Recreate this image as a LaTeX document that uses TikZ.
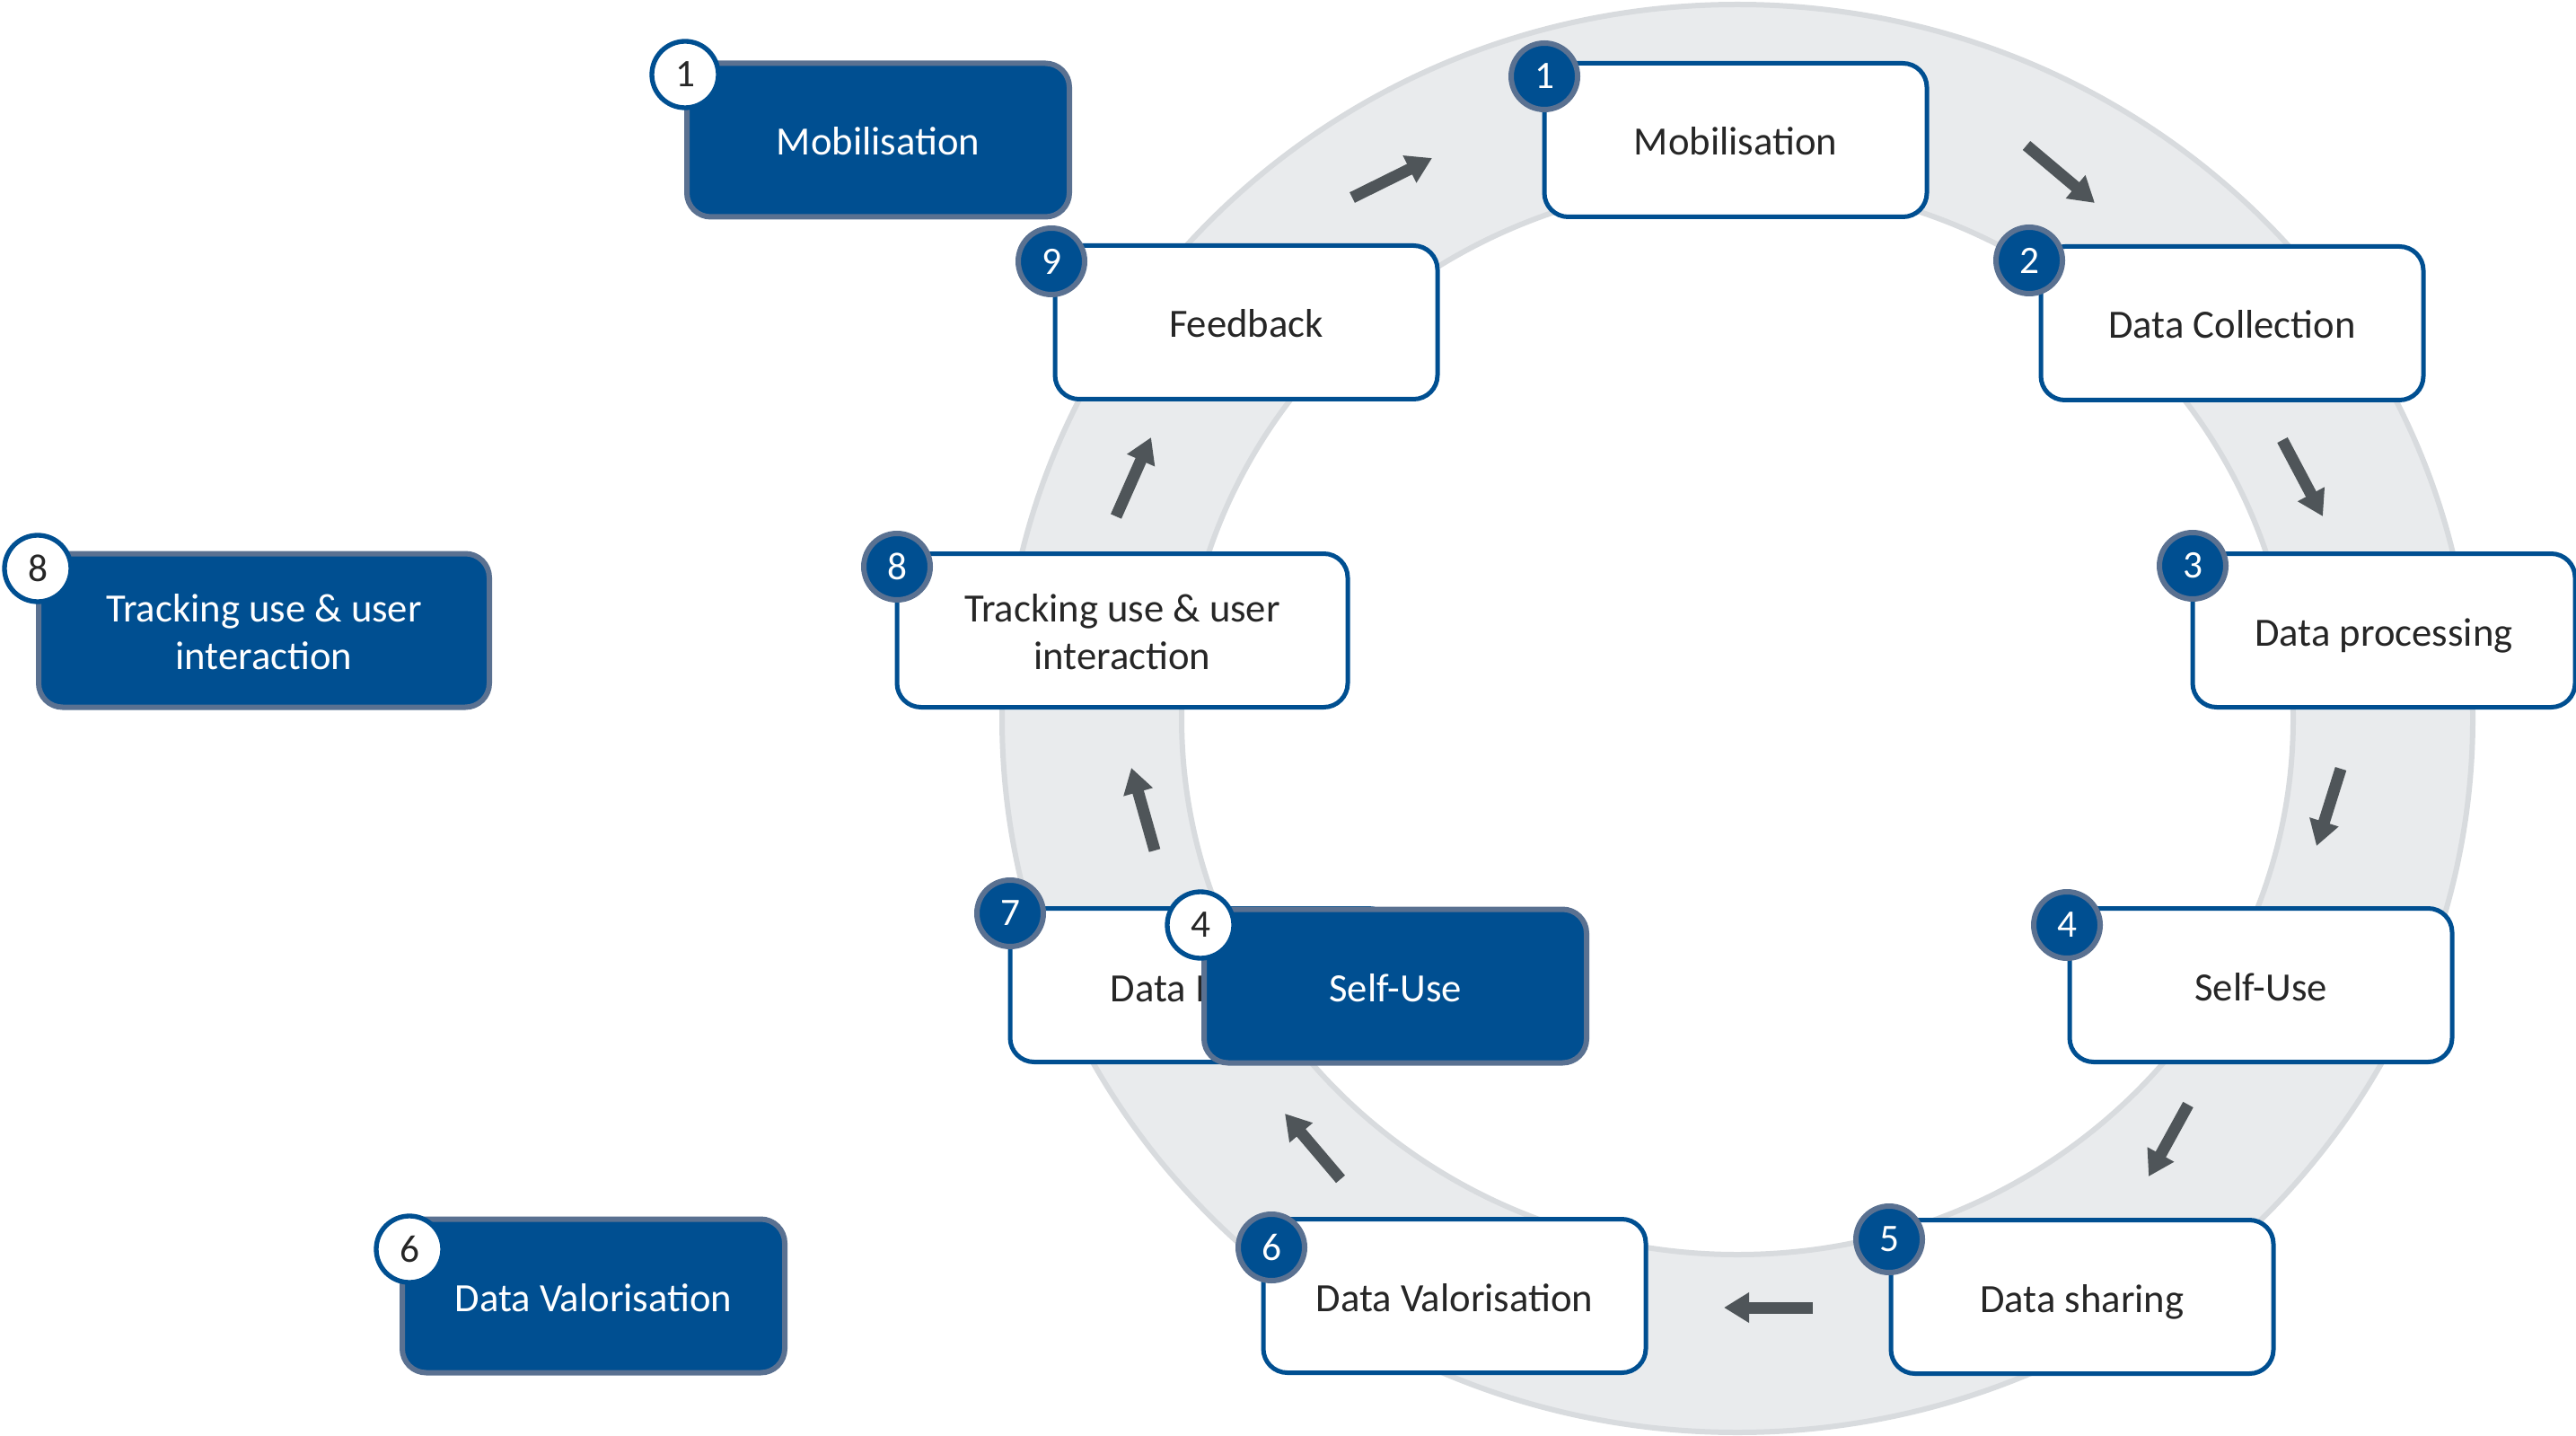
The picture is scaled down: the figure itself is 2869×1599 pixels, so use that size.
\documentclass[tikz,border=0pt]{standalone}
\usepackage{fontspec}
\setmainfont{Carlito}
\usetikzlibrary{arrows.meta}
\definecolor{bluefill}{RGB}{0,79,145}
\definecolor{slate}{RGB}{90,113,145}
\definecolor{arrowc}{RGB}{79,85,89}
\definecolor{ringfill}{RGB}{233,235,237}
\definecolor{ringedge}{RGB}{216,219,222}
\definecolor{textdark}{RGB}{38,38,38}
\newcommand\mainfs{\fontsize{13.4pt}{15.9pt}\selectfont}
\newcommand\badgefs{\fontsize{13pt}{15pt}\selectfont}
\begin{document}
\begin{tikzpicture}[x=0.3pt,y=-0.3pt,
  wbox/.style={draw=bluefill, line width=1.5pt, fill=white, rounded corners=8pt,
    minimum width=127.8pt, minimum height=51.3pt, inner sep=0pt, align=center,
    text=textdark, font=\mainfs},
  bbox/.style={draw=slate, line width=1.8pt, fill=bluefill, rounded corners=8pt,
    minimum width=127.8pt, minimum height=51.3pt, inner sep=0pt, align=center,
    text=white, font=\mainfs},
  oneline/.style={text height=10.2pt, text depth=0pt},
  twoline/.style={yshift=-0.5pt},
  bbadge/.style={circle, draw=slate, fill=bluefill, line width=1.8pt,
    minimum size=22.2pt, inner sep=0pt, text=white, font=\badgefs},
  wbadge/.style={circle, draw=bluefill, fill=white, line width=1.6pt,
    minimum size=22.2pt, inner sep=0pt, text=textdark, font=\badgefs},
  flow/.style={draw=arrowc, line width=3.9pt,
    -{Triangle[length=8.4pt,width=9.6pt]}}
]
\useasboundingbox (0,0) rectangle (2869,1599);
% ring
\fill[ringfill, even odd rule] (1935,800) ellipse [x radius=819, y radius=795]
  (1935,800) ellipse [x radius=619, y radius=597];
\draw[ringedge, line width=1.8pt] (1935,800) ellipse [x radius=819, y radius=795];
\draw[ringedge, line width=1.8pt] (1935,800) ellipse [x radius=619, y radius=597];

% arrow coordinates
\coordinate (a1s) at (2257,162); \coordinate (a1e) at (2333,226);
\coordinate (a2s) at (2542,490); \coordinate (a2e) at (2587,575);
\coordinate (a3s) at (2607,856); \coordinate (a3e) at (2580,942);
\coordinate (a4s) at (2437,1230); \coordinate (a4e) at (2393,1310);
\coordinate (a5s) at (2019,1456); \coordinate (a5e) at (1920,1456);
\coordinate (a6s) at (1493,1313); \coordinate (a6e) at (1431,1240);
\coordinate (a7s) at (1286,947); \coordinate (a7e) at (1260,855);
\coordinate (a8s) at (1243,575); \coordinate (a8e) at (1282,487);
\coordinate (a9s) at (1506,220); \coordinate (a9e) at (1595,176);
\foreach \i in {1,...,9} { \draw[flow] (a\i s) -- (a\i e); }

% white cycle boxes
\node[wbox, oneline] (w1) at (1933,156) {Mobilisation};
\node[wbox, oneline] (w2) at (2486,360) {Data Collection};
\node[wbox, oneline] (w3) at (2655,702) {Data processing};
\node[wbox, oneline] (w4) at (2518,1097) {Self-Use};
\node[wbox, oneline] (w5) at (2319,1444) {Data sharing};
\node[wbox, oneline] (w6) at (1620,1443) {Data Valorisation};
\node[wbox] (w7) at (1338,1097) {};
\node[inner sep=0pt, anchor=west, text=textdark, font=\mainfs] (w7t) at (1236,1101) {Data I};
\node[wbox, minimum width=150.6pt] (w8) at (1250,702) {};
\node[align=center, text=textdark, font=\mainfs, inner sep=0pt] (w8t) at (1250,704) {Tracking use \& user\\interaction};
\node[wbox, oneline] (w9) at (1388,359) {Feedback};

\node[bbadge] (n1) at (1720,85) {1};
\node[bbadge] (n2) at (2260,290) {2};
\node[bbadge] (n3) at (2442,630) {3};
\node[bbadge] (n4) at (2302,1030) {4};
\node[bbadge] (n5) at (2104,1380) {5};
\node[bbadge] (n6) at (1416,1389) {6};
\node[bbadge] (n7) at (1125,1017) {7};
\node[bbadge] (n8) at (999,631) {8};
\node[bbadge] (n9) at (1171,291) {9};

% blue highlighted boxes
\node[bbox, oneline] (b1) at (978,156) {Mobilisation};
\node[bbox, minimum width=150.6pt] (b8) at (294,702) {};
\node[align=center, text=white, font=\mainfs, inner sep=0pt] (b8t) at (294,704) {Tracking use \& user\\interaction};
\node[bbox, oneline] (b6) at (661,1443) {Data Valorisation};
\node[bbox, oneline] (b4) at (1554,1098) {Self-Use};

\node[wbadge] (m1) at (763,83) {1};
\node[wbadge] (m8) at (42,633) {8};
\node[wbadge] (m6) at (456,1391) {6};
\node[wbadge] (m4) at (1337,1030) {4};
\end{tikzpicture}
\end{document}
